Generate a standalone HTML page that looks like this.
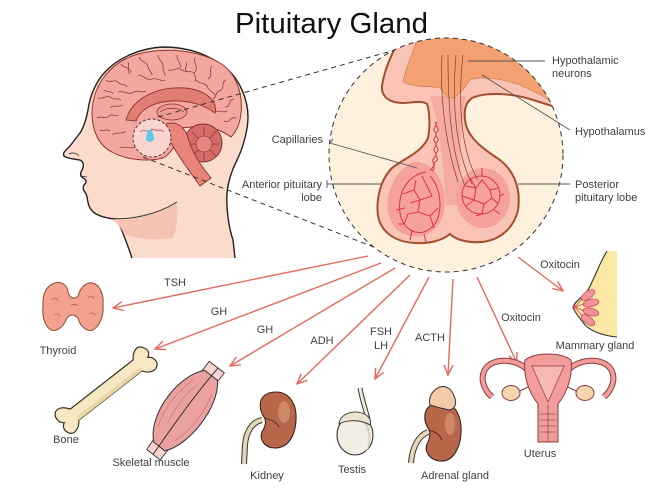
<!DOCTYPE html>
<html><head><meta charset="utf-8">
<style>
html,body{margin:0;padding:0;background:#fff;}
svg{display:block;}
text{font-family:"Liberation Sans",Arial,sans-serif;fill:#404040;}
.l{font-size:11px;}
</style></head><body>
<svg width="667" height="500" viewBox="0 0 667 500" xmlns="http://www.w3.org/2000/svg">
<defs>
<marker id="ah" viewBox="0 0 12 12" refX="11" refY="6" markerWidth="12" markerHeight="12" orient="auto" markerUnits="userSpaceOnUse">
<path d="M1,1.5 L11,6 L1,10.5" fill="none" stroke="#e26a5c" stroke-width="1.4"/>
</marker>
<clipPath id="cc"><circle cx="446" cy="155" r="117"/></clipPath>
</defs>
<rect width="667" height="500" fill="#fff"/>

<!-- Title -->
<text x="235" y="33" font-size="29" textLength="193" lengthAdjust="spacingAndGlyphs" style="fill:#111">Pituitary Gland</text>

<!-- ===== HEAD ===== -->
<path d="M235,258 L233,240 C229,228 226,210 227,193 C228,182 232,170 237,160 C243,148 248,130 248,117 C248,100 240,80 227,69 C210,55 190,47 163,47 C140,48 118,58 105,72 C95,83 90,96 88,110 C86,120 84,127 80,133 C76,138 73,142 70,146 C66,150 62,153 64,156 C66,158 72,159 80,160 C84,162 84,166 82,170 C80,173 80,176 83,178 C87,180 87,182 84,185 C82,188 84,191 86,194 C88,198 87,203 90,208 C93,213 98,216 108,218 C115,219 118,222 121,228 C124,236 128,246 132,258" fill="#fbdccc" stroke="#222" stroke-width="1.4"/>
<path d="M110,219 C130,222 155,215 176,203 C179,215 177,228 173,238 C156,241 138,239 124,234 C121,227 117,222 110,219 Z" fill="#f4c3b1"/>
<path d="M108,218 C130,221 158,214 177,202" fill="none" stroke="#333" stroke-width="1"/>
<path d="M69,154 c3,-2 8,-1 10,2" fill="none" stroke="#333" stroke-width="0.8"/>
<path d="M80,176 l7,1" fill="none" stroke="#333" stroke-width="0.8"/>

<!-- brain -->
<path d="M112,152 C98,145 92,130 92,112 C93,85 110,62 138,54 C165,47 198,50 220,63 C236,73 243,93 241,113 C240,124 236,132 231,137 C220,129 206,125 192,127 L180,128 C178,142 172,153 163,158 C148,162 126,160 112,152 Z" fill="#f3a79e" stroke="#8e3434" stroke-width="1"/>
<g fill="none" stroke="#9a3a3a" stroke-width="0.8">
<path d="M97,118 c4,-3 8,2 12,-2 c3,-3 6,1 9,-1"/>
<path d="M98,98 c5,2 8,-4 14,0 c3,3 6,-1 9,2"/>
<path d="M106,80 c4,4 9,-2 13,3 c3,3 6,0 8,4"/>
<path d="M121,64 c3,5 8,2 10,8"/>
<path d="M139,57 c2,6 8,4 9,10 c1,4 4,5 4,8"/>
<path d="M158,55 c0,6 6,6 5,12 c-1,4 3,6 2,9"/>
<path d="M177,55 c-1,6 5,8 3,13"/>
<path d="M195,58 c-2,6 4,8 0,14 c-2,3 2,6 0,9"/>
<path d="M212,66 c-4,5 2,9 -4,13"/>
<path d="M226,80 c-6,3 0,9 -7,11 c-4,2 -2,6 -6,8"/>
<path d="M234,99 c-7,1 -2,8 -9,8"/>
<path d="M236,118 c-6,-2 -6,6 -12,3"/>
<path d="M118,92 c6,-2 10,4 16,0 c4,-3 8,2 12,-1"/>
<path d="M138,75 c6,0 8,6 14,4 c5,-2 8,3 13,1"/>
<path d="M168,70 c6,2 8,-4 14,0 c4,3 8,0 12,3"/>
<path d="M196,80 c4,5 10,2 12,8 c2,4 6,4 8,8"/>
<path d="M110,108 c4,-4 9,0 12,-3"/>
<path d="M112,135 c5,-4 10,0 14,-4"/>
<path d="M120,148 c5,-3 10,2 15,-1 c4,-2 8,1 12,-1"/>
<path d="M100,130 c4,2 6,-2 10,1"/>
<path d="M215,112 c4,-3 8,2 12,-1"/>
<path d="M128,62 c2,4 -2,8 2,12"/>
<path d="M186,62 c2,4 -3,7 1,10"/>
<path d="M104,90 c3,3 7,0 9,4"/>
</g>
<!-- limbic / corpus callosum -->
<path d="M126,120 C132,98 158,86 185,88 C206,90 218,101 215,113 C206,106 190,100 172,101 C152,102 140,110 136,121 Z" fill="#e27d74" stroke="#8e3434" stroke-width="0.9"/>
<ellipse cx="172" cy="112" rx="15" ry="8" fill="#ee9c92" stroke="#8e3434" stroke-width="0.8"/>
<path d="M160,112 c6,-5 18,-5 24,0" fill="none" stroke="#8e3434" stroke-width="0.7"/>
<!-- cerebellum -->
<circle cx="203" cy="143" r="19" fill="#d46d67" stroke="#863030" stroke-width="1"/>
<circle cx="204" cy="144" r="8" fill="#e4867e" stroke="#863030" stroke-width="0.6"/>
<g stroke="#863030" stroke-width="0.7">
<line x1="204" y1="126" x2="204" y2="136"/><line x1="216" y1="131" x2="210" y2="138"/><line x1="220" y1="144" x2="212" y2="144"/><line x1="216" y1="156" x2="210" y2="150"/><line x1="204" y1="161" x2="204" y2="152"/><line x1="192" y1="156" x2="198" y2="150"/><line x1="188" y1="144" x2="196" y2="144"/><line x1="192" y1="132" x2="198" y2="138"/>
</g>
<!-- brainstem -->
<path d="M166,124 C175,121 183,125 187,135 C191,150 200,165 211,178 L200,186 C190,172 178,156 170,141 Z" fill="#e8847a" stroke="#8e3434" stroke-width="0.9"/>
<!-- small dashed circle -->
<circle cx="152" cy="138" r="19" fill="#fad4cf" stroke="#333" stroke-width="0.9" stroke-dasharray="3,2"/>
<path d="M140,132 c4,-4 8,2 12,-3 c3,3 8,-1 12,3" fill="none" stroke="#a04040" stroke-width="0.7"/>
<path d="M148,130 L146,138 C145,143 155,143 154,138 L152,130 Z" fill="#5cc9ea"/>

<!-- dashed connectors -->
<line x1="158" y1="117" x2="402" y2="48" stroke="#333" stroke-width="1" stroke-dasharray="5,4"/>
<line x1="143" y1="157" x2="384" y2="251" stroke="#333" stroke-width="1" stroke-dasharray="5,4"/>

<!-- ===== ZOOM CIRCLE ===== -->
<circle cx="446" cy="155" r="117" fill="#fdf0dc"/>
<g clip-path="url(#cc)">
<path d="M395,20 L395,48 C390,58 384,72 382,86 C381,97 390,103 403,103 C412,103 422,100 427,104 C430,112 430,128 428,138 C422,152 405,158 392,168 C380,180 376,200 378,216 C381,232 395,242 415,243 C430,244 443,240 450,234 C456,240 468,243 482,242 C500,240 514,228 518,210 C521,190 515,172 500,160 C485,150 470,140 466,125 C463,112 465,103 472,98 C485,92 510,93 530,99 L552,106 L600,110 L600,20 Z" fill="#f9c4b6" stroke="#a34e2d" stroke-width="2"/>
<path d="M430,96 C438,120 443,160 446,205 L460,205 C459,160 461,120 466,96 Z" fill="#f5ab9d"/>
<path d="M413,162 C395,172 385,192 388,212 C391,230 405,238 420,236 C436,234 445,220 445,200 C445,180 432,160 413,162 Z" fill="#f4a29b"/>
<ellipse cx="483" cy="198" rx="27" ry="30" fill="#f4a29b"/>
<path d="M417,20 L417,40 C412,55 405,70 403,82 C415,88 432,86 440,88 C444,93 446,98 452,98 C460,96 464,88 470,80 C485,75 505,80 520,85 C530,90 538,93 548,99 L600,60 L600,20 Z" fill="#f4a171" stroke="#c9784c" stroke-width="0.6"/>
</g>
<g fill="none" stroke="#8a3a2a" stroke-width="0.7">
<path d="M442,55 C440,90 444,140 458,182"/>
<path d="M448,55 C448,100 450,150 465,186"/>
<path d="M456,55 C452,100 455,150 472,184"/>
<path d="M463,55 C458,100 460,150 478,180"/>
</g>
<g fill="none" stroke="#e0343a" stroke-width="1">
<path d="M437,122 c-4,4 4,6 0,10 c-4,4 4,6 0,10 c-4,4 4,6 0,10 c-4,4 4,6 -2,10 c-4,4 2,6 -3,9"/>
<path d="M435,122 c4,4 -4,6 0,10 c4,4 -4,6 0,10 c4,4 -4,6 0,10 c4,4 -4,6 -2,10 c4,4 -2,6 -3,9"/>
<path d="M426,172 C412,174 402,186 400,200 C398,214 402,226 412,231 C424,236 436,228 439,214 C442,200 438,184 430,176"/>
<path d="M403,194 L414,190 L420,200 L432,196 M414,190 L416,180 M420,200 L418,212 L408,214 L404,224 M418,212 L430,216 L434,228 M430,216 L438,208 M426,184 L432,196 M410,203 L420,200 M396,210 L405,208 M412,230 L410,240 M424,234 L426,242 M398,224 L404,224 M422,176 L426,184"/>
<circle cx="481" cy="195" r="19"/>
<path d="M466,186 L476,188 L482,180 L490,190 L498,188 M476,188 L474,200 L466,206 M474,200 L484,204 L492,198 L498,204 M484,204 L482,214 M490,190 L492,198 M470,178 L476,188 M482,214 L476,216 M462,196 L474,200 M494,210 L500,214 M482,176 L482,168 M500,196 L504,194"/>
</g>
<circle cx="446" cy="155" r="117" fill="none" stroke="#333" stroke-width="1" stroke-dasharray="5,4"/>

<!-- leaders -->
<g stroke="#555" stroke-width="0.9" fill="none">
<line x1="468" y1="61" x2="545" y2="61"/>
<line x1="482" y1="75" x2="570" y2="130"/>
<path d="M333,139 L330,143 L417,168"/>
<path d="M327,180 L327,188 M327,184 L382,184"/>
<line x1="518" y1="184" x2="570" y2="184"/>
</g>
<text class="l" x="552" y="64">Hypothalamic</text>
<text class="l" x="552" y="77">neurons</text>
<text class="l" x="575" y="135">Hypothalamus</text>
<text class="l" x="575" y="188">Posterior</text>
<text class="l" x="575" y="201">pituitary lobe</text>
<text class="l" x="323" y="143" text-anchor="end">Capillaries</text>
<text class="l" x="322" y="188" text-anchor="end">Anterior pituitary</text>
<text class="l" x="322" y="201" text-anchor="end">lobe</text>

<!-- ===== ARROWS ===== -->
<g stroke="#e26a5c" stroke-width="1.4" marker-end="url(#ah)">
<line x1="368" y1="256" x2="113" y2="308"/>
<line x1="381" y1="263" x2="155" y2="349"/>
<line x1="395" y1="268" x2="230" y2="366"/>
<line x1="410" y1="275" x2="297" y2="384"/>
<line x1="429" y1="277" x2="375" y2="379"/>
<line x1="453" y1="279" x2="448" y2="375"/>
<line x1="477" y1="277" x2="517" y2="363"/>
<line x1="518" y1="257" x2="563" y2="291"/>
</g>
<text class="l" x="175" y="286" text-anchor="middle">TSH</text>
<text class="l" x="219" y="315" text-anchor="middle">GH</text>
<text class="l" x="265" y="333" text-anchor="middle">GH</text>
<text class="l" x="322" y="344" text-anchor="middle">ADH</text>
<text class="l" x="381" y="335" text-anchor="middle">FSH</text>
<text class="l" x="381" y="349" text-anchor="middle">LH</text>
<text class="l" x="430" y="341" text-anchor="middle">ACTH</text>
<text class="l" x="521" y="321" text-anchor="middle">Oxitocin</text>
<text class="l" x="560" y="268" text-anchor="middle">Oxitocin</text>

<!-- ===== ORGANS ===== -->
<path d="M55,283 C62,281 68,286 68,292 C70,298 74,300 78,296 C80,288 86,282 92,283 C100,284 104,295 103,305 C104,315 100,326 93,330 C86,332 80,326 78,318 C74,314 70,314 67,318 C64,326 58,332 51,330 C44,326 42,315 43,305 C42,294 47,285 55,283 Z" fill="#f2a28f" stroke="#8e4637" stroke-width="1"/>
<g fill="none" stroke="#b85a48" stroke-width="0.7">
<path d="M52,300 c2,-3 5,-2 6,1"/><path d="M88,298 c2,-3 5,-2 6,1"/><path d="M55,315 c2,-2 5,-1 5,2"/><path d="M90,314 c2,-2 5,-1 5,2"/><path d="M70,306 c3,-2 6,-2 8,0"/>
</g>
<text class="l" x="58" y="354" text-anchor="middle">Thyroid</text>

<!-- Bone -->
<g transform="translate(106,390) rotate(-38)">
<path d="M-40,-7 L40,-7 C44,-13 51,-17 55,-11 C59,-6 57,-2 53,0 C58,3 59,10 54,13 C49,16 43,12 40,7 L-40,7 C-44,13 -51,16 -55,12 C-59,7 -57,2 -53,0 C-58,-3 -58,-11 -53,-14 C-48,-16 -43,-12 -40,-7 Z" fill="#f6e8c2" stroke="#3d3222" stroke-width="1.2"/>
<path d="M-40,3 L40,3 L40,7 L-40,7 Z" fill="#ead7a6"/>
</g>
<text class="l" x="66" y="443" text-anchor="middle">Bone</text>

<!-- Skeletal muscle -->
<g transform="translate(184,410) rotate(-52)">
<path d="M-40,-6 L-54,-5 L-54,12 L-40,12 Z" fill="#f8d3cf" stroke="#333" stroke-width="0.9"/>
<path d="M40,-10 L54,-10 L54,9 L40,9 Z" fill="#f8d3cf" stroke="#333" stroke-width="0.9"/>
<path d="M-44,-4 C-25,-26 25,-26 44,-8 L44,8 C25,26 -25,26 -44,10 Z" fill="#eaa1a0" stroke="#333" stroke-width="1"/>
<path d="M-54,3 C-20,1 20,-1 54,1" fill="none" stroke="#333" stroke-width="1"/>
<g fill="none" stroke="#c77474" stroke-width="0.6">
<path d="M-30,-10 C-10,-17 10,-17 30,-11"/><path d="M-30,12 C-10,18 10,18 30,12"/><path d="M-20,-5 C0,-9 15,-9 28,-5"/>
</g>
</g>
<text class="l" x="151" y="466" text-anchor="middle">Skeletal muscle</text>

<!-- Kidney -->
<path d="M262,420 C252,422 246,432 245,445 L244,464" fill="none" stroke="#333" stroke-width="6"/>
<path d="M262,420 C252,422 246,432 245,445 L244,464" fill="none" stroke="#e6d5b8" stroke-width="4"/>
<path d="M276,392 C290,392 297,405 296,420 C295,438 287,448 275,448 C265,448 259,440 262,432 C265,427 267,422 264,417 C259,410 259,400 264,396 C267,393 271,392 276,392 Z" fill="#b8674b" stroke="#3b2318" stroke-width="1.1"/>
<ellipse cx="284" cy="412" rx="6" ry="11" fill="#cf8768"/>
<path d="M265,418 c5,2 10,2 14,9" fill="none" stroke="#3b2318" stroke-width="0.8"/>
<text class="l" x="267" y="479" text-anchor="middle">Kidney</text>

<!-- Testis -->
<path d="M360,388 C362,400 366,410 368,420" fill="none" stroke="#333" stroke-width="5"/>
<path d="M360,388 C362,400 366,410 368,420" fill="none" stroke="#efe7d4" stroke-width="3"/>
<ellipse cx="355" cy="435" rx="18" ry="20" fill="#f3eee4" stroke="#333" stroke-width="1.1"/>
<path d="M365,420 C372,428 373,445 365,453 C370,445 370,430 362,421 Z" fill="#dcd5c6"/>
<path d="M339,424 C340,414 352,410 362,413 C368,415 372,420 370,425 C362,420 348,419 339,424 Z" fill="#ece4d0" stroke="#333" stroke-width="0.9"/>
<text class="l" x="352" y="473" text-anchor="middle">Testis</text>

<!-- Adrenal gland -->
<path d="M428,432 C418,436 412,448 411,463" fill="none" stroke="#333" stroke-width="6"/>
<path d="M428,432 C418,436 412,448 411,463" fill="none" stroke="#e6d5b8" stroke-width="4"/>
<path d="M443,403 C456,403 462,418 461,433 C460,450 452,462 440,461 C430,460 424,452 427,444 C430,438 431,433 428,428 C423,420 424,410 430,406 C434,404 438,403 443,403 Z" fill="#b8674b" stroke="#3b2318" stroke-width="1.1"/>
<ellipse cx="450" cy="424" rx="5" ry="11" fill="#cf8768"/>
<path d="M429,430 c5,2 10,3 13,10" fill="none" stroke="#3b2318" stroke-width="0.8"/>
<path d="M430,405 C428,398 432,390 440,387 C447,385 452,390 454,396 C457,402 456,408 450,410 C444,409 436,407 430,405 Z" fill="#f3cba8" stroke="#333" stroke-width="1"/>
<text class="l" x="455" y="479" text-anchor="middle">Adrenal gland</text>

<!-- Uterus -->
<g stroke="#8b3b3b" stroke-width="1">
<path d="M528,370 C515,358 494,358 486,368 C480,376 482,388 492,397" fill="none" stroke="#8b3b3b" stroke-width="6"/>
<path d="M528,370 C515,358 494,358 486,368 C480,376 482,388 492,397" fill="none" stroke="#f29c9c" stroke-width="4"/>
<path d="M568,370 C581,358 602,358 610,368 C616,376 614,388 604,397" fill="none" stroke="#8b3b3b" stroke-width="6"/>
<path d="M568,370 C581,358 602,358 610,368 C616,376 614,388 604,397" fill="none" stroke="#f29c9c" stroke-width="4"/>
<line x1="530" y1="386" x2="518" y2="392"/>
<line x1="566" y1="386" x2="578" y2="392"/>
<ellipse cx="511" cy="393" rx="9" ry="7.5" fill="#f5d5b0"/>
<ellipse cx="585" cy="393" rx="9" ry="7.5" fill="#f5d5b0"/>
<path d="M525,360 C535,352 561,352 571,360 C573,378 566,394 558,404 L558,442 L538,442 L538,404 C530,394 523,378 525,360 Z" fill="#f29c9c"/>
<path d="M532,366 L564,366 L548,402 Z" fill="#f7b9b4" stroke-width="0.7"/>
<g stroke-width="0.6"><line x1="540" y1="414" x2="556" y2="414"/><line x1="540" y1="420" x2="556" y2="420"/><line x1="540" y1="426" x2="556" y2="426"/><line x1="540" y1="432" x2="556" y2="432"/><line x1="548" y1="404" x2="548" y2="442"/></g>
</g>
<text class="l" x="540" y="457" text-anchor="middle">Uterus</text>

<!-- Mammary gland -->
<path d="M607,251 C600,262 596,275 588,290 C582,298 574,302 573,307 C574,312 580,318 585,325 C592,332 605,336 617,337 L617,251 Z" fill="#fce8a4"/>
<path d="M607,251 C600,262 596,275 588,290 C582,298 574,302 573,307 C574,312 580,318 585,325 C592,332 605,336 617,337" fill="none" stroke="#333" stroke-width="1.1"/>
<g fill="#f1919a" stroke="#c24a55" stroke-width="0.7">
<ellipse cx="588" cy="295" rx="8" ry="3.8" transform="rotate(-35 588 295)"/>
<ellipse cx="591" cy="303" rx="8" ry="3.8" transform="rotate(-12 591 303)"/>
<ellipse cx="591" cy="312" rx="8" ry="3.8" transform="rotate(12 591 312)"/>
<ellipse cx="588" cy="320" rx="8" ry="3.8" transform="rotate(38 588 320)"/>
</g>
<g stroke="#c24a55" stroke-width="0.7"><line x1="575" y1="307" x2="582" y2="299"/><line x1="575" y1="307" x2="584" y2="304"/><line x1="575" y1="307" x2="584" y2="311"/><line x1="575" y1="307" x2="582" y2="316"/></g>
<circle cx="575" cy="307" r="2" fill="#e0606a"/>
<text class="l" x="595" y="349" text-anchor="middle">Mammary gland</text>
</svg>
</body></html>
